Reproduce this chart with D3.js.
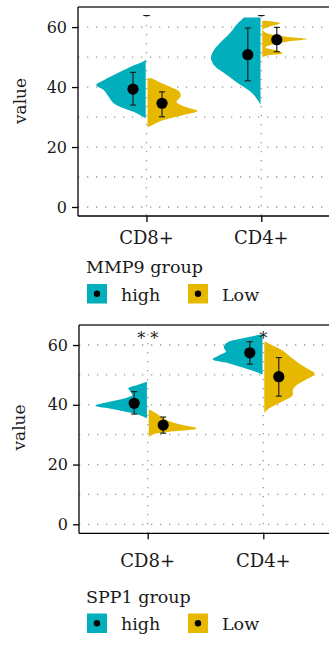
<!DOCTYPE html>
<html>
<head>
<meta charset="utf-8">
<title>MMP9 / SPP1 split violins</title>
<style>
  body { margin: 0; background: #fff; }
  svg text { font-family: "DejaVu Serif", serif; fill: #1a1a1a; }
</style>
</head>
<body>
<svg width="329" height="656"></svg>
<script src="https://cdn.jsdelivr.net/npm/d3@7"></script>
<script>

// ---- data ----
var cells = ["CD8+", "CD4+"];
var groups = ["high", "Low"];
var yTicks = [0, 20, 40, 60];
var gridVals = [0, 10, 20, 30, 40, 50, 60];

// density outlines: [value, relative width]
var mmpHighCD8 = [[49.2,0],[48.5,0.05],[46.8,0.30],[44.6,0.57],[42.3,0.84],[40.7,0.99],[39,0.84],[36.8,0.74],[34.6,0.64],[32.9,0.44],[31.2,0.17],[29.6,0]];
var mmpLowCD8  = [[42.9,0.08],[41.8,0.22],[40.1,0.45],[38.4,0.64],[36.8,0.66],[35.1,0.58],[33.4,0.75],[32,1.0],[30.7,0.72],[29,0.32],[27.3,0.09],[26.6,0]];
var mmpHighCD4 = [[63.2,0.33],[60.8,0.48],[58,0.61],[55.2,0.78],[52.4,0.93],[49.7,0.99],[46.9,0.91],[44.1,0.68],[41.3,0.45],[38.6,0.21],[36.3,0.08],[34.1,0]];
var mmpLowCD4  = [[62.1,0.05],[61.3,0.35],[59.9,0.09],[59.1,0.01],[58,0.08],[56.9,0.45],[56,0.9],[55.2,0.52],[54.1,0.18],[53.2,0.06],[52.1,0.32],[51.3,0.40],[50.6,0.12],[49.9,0]];

var sppHighCD8 = [[47.7,0],[46.6,0.19],[45.5,0.37],[44.4,0.33],[43.3,0.29],[42.2,0.44],[41,0.75],[39.7,1.03],[38.8,0.75],[37.7,0.42],[36.6,0.15],[35.5,0]];
var sppLowCD8  = [[38.3,0.02],[37.1,0.15],[36,0.25],[34.3,0.44],[33.2,0.68],[32.1,0.96],[31,0.41],[30.1,0.08],[29.3,0]];
var sppHighCD4 = [[63.4,0.06],[62.2,0.41],[61.1,0.68],[60,0.76],[58.9,0.77],[57.8,0.73],[56.7,0.85],[55.2,1.0],[53.9,0.68],[52.2,0.35],[50.7,0.08],[50,0]];
var sppLowCD4  = [[61.1,0.02],[60,0.15],[58.3,0.35],[56.1,0.52],[53.9,0.69],[52.2,0.85],[50.3,1.01],[48.3,0.82],[46.6,0.65],[44.9,0.57],[43.3,0.57],[41.6,0.42],[39.9,0.22],[38.2,0.05],[37.3,0]];

// mean and error bar ends, per cell (CD8+, CD4+)
var mmpHighMean = [39.3, 50.8], mmpHighLo = [34, 42.1], mmpHighHi = [44.9, 59.7];
var mmpLowMean  = [34.6, 55.8], mmpLowLo  = [30.1, 51.8], mmpLowHi  = [38.4, 59.9];
var sppHighMean = [40.5, 57.4], sppHighLo = [36.9, 53.6], sppHighHi = [44.4, 61.1];
var sppLowMean  = [33.2, 49.4], sppLowLo  = [30.5, 42.9], sppLowHi  = [35.9, 55.8];

var mmpSig = ["\u2013", "\u2013"];
var sppSig = ["* *", "*"];

var colors = {high: "#00AFBB", Low: "#E7B800"};

// ---- layout ----
var svg = d3.select("svg");

var panels = [
  {title: "MMP9 group", top: 7, bottom: 216, left: 78, xl: [146.5, 261.3],
   dens: {high: [mmpHighCD8, mmpHighCD4], Low: [mmpLowCD8, mmpLowCD4]},
   mean: {high: mmpHighMean, Low: mmpLowMean}, lo: {high: mmpHighLo, Low: mmpLowLo}, hi: {high: mmpHighHi, Low: mmpLowHi},
   sig: mmpSig, sigY: 20, labY: 244, ylabX: 20, ylabY: 101, legTitleY: 273, keyY: 284, keyTextY: 301},
  {title: "SPP1 group", top: 325, bottom: 533.3, left: 79, xl: [147.7, 263.3],
   dens: {high: [sppHighCD8, sppHighCD4], Low: [sppLowCD8, sppLowCD4]},
   mean: {high: sppHighMean, Low: sppLowMean}, lo: {high: sppHighLo, Low: sppLowLo}, hi: {high: sppHighHi, Low: sppLowHi},
   sig: sppSig, sigY: 344, labY: 567, ylabX: 19, ylabY: 427.5, legTitleY: 603, keyY: 613.5, keyTextY: 630}
];

var wScale = d3.scaleLinear().domain([0, 1]).range([0, 50]);
var edgeOff = {high: -0.8, Low: 1};
var pointOff = {high: -13.5, Low: 15.5};

panels.forEach(drawPanel);

function drawPanel(p) {
  var y = d3.scaleLinear().domain([-3, 66.7]).range([p.bottom, p.top]);
  var x = d3.scalePoint().domain(cells).range(p.xl);
  var g = svg.append("g");

  // dotted grid
  g.selectAll(".hgrid").data(gridVals).enter().append("line")
    .attr("x1", p.left).attr("x2", 329)
    .attr("y1", function(d) { return y(d); }).attr("y2", function(d) { return y(d); })
    .attr("stroke", "#9a9a9a").attr("stroke-width", 1.3)
    .attr("stroke-dasharray", "1.3,7.7");
  g.selectAll(".vgrid").data(cells).enter().append("line")
    .attr("x1", function(d) { return x(d); }).attr("x2", function(d) { return x(d); })
    .attr("y1", p.top).attr("y2", p.bottom)
    .attr("stroke", "#9a9a9a").attr("stroke-width", 1.3)
    .attr("stroke-dasharray", "1.3,7.7");

  // half violins
  groups.forEach(function(grp) {
    cells.forEach(function(c, i) {
      var edge = x(c) + edgeOff[grp];
      var sign = grp == "high" ? -1 : 1;
      var area = d3.area()
        .curve(d3.curveCatmullRom.alpha(0.5))
        .y(function(d) { return y(d[0]); })
        .x0(edge)
        .x1(function(d) { return edge + sign * wScale(d[1]); });
      g.append("path")
        .datum(p.dens[grp][i])
        .attr("d", area)
        .attr("fill", colors[grp]);
    });
  });

  // error bars + means
  groups.forEach(function(grp) {
    cells.forEach(function(c, i) {
      var cx = x(c) + pointOff[grp];
      g.append("line")
        .attr("x1", cx).attr("x2", cx)
        .attr("y1", y(p.lo[grp][i])).attr("y2", y(p.hi[grp][i]))
        .attr("stroke", "#222").attr("stroke-width", 1.2);
      [p.lo[grp][i], p.hi[grp][i]].forEach(function(v) {
        g.append("line")
          .attr("x1", cx - 3).attr("x2", cx + 3)
          .attr("y1", y(v)).attr("y2", y(v))
          .attr("stroke", "#222").attr("stroke-width", 1.2);
      });
      g.append("circle")
        .attr("cx", cx).attr("cy", y(p.mean[grp][i]))
        .attr("r", 5.6).attr("fill", "#000");
    });
  });

  // significance labels
  g.selectAll(".sig").data(p.sig).enter().append("text")
    .attr("x", function(d, i) { return x(cells[i]); })
    .attr("y", p.sigY)
    .attr("text-anchor", "middle")
    .attr("font-size", 16)
    .text(function(d) { return d; });

  // panel frame and axes
  g.append("line").attr("x1", p.left).attr("x2", 329).attr("y1", p.top).attr("y2", p.top)
    .attr("stroke", "#333").attr("stroke-width", 1.3);

  var yAxis = g.append("g").attr("transform", "translate(" + p.left + ",0)")
    .call(d3.axisLeft(y).tickValues(yTicks).tickSize(6).tickPadding(5));
  yAxis.attr("font-family", null);
  yAxis.select(".domain").attr("stroke", "#000").attr("stroke-width", 1.3)
    .attr("d", "M0," + p.top + "V" + p.bottom);
  yAxis.selectAll(".tick line").attr("stroke", "#000").attr("stroke-width", 1.3);
  yAxis.selectAll(".tick text").attr("font-size", 16).attr("fill", "#1a1a1a");

  var xAxis = g.append("g").attr("transform", "translate(0," + p.bottom + ")")
    .call(d3.axisBottom(x).tickSize(6).tickFormat(""));
  xAxis.select(".domain").attr("stroke", "#000").attr("stroke-width", 1.3)
    .attr("d", "M" + p.left + ",0H329");
  xAxis.selectAll(".tick line").attr("stroke", "#000").attr("stroke-width", 1.3);

  g.selectAll(".xlab").data(cells).enter().append("text")
    .attr("x", function(d) { return x(d); })
    .attr("y", p.labY)
    .attr("text-anchor", "middle")
    .attr("font-size", 18)
    .text(function(d) { return d; });

  g.append("text")
    .attr("transform", "translate(" + (p.ylabX + 6) + "," + p.ylabY + ") rotate(-90)")
    .attr("text-anchor", "middle")
    .attr("font-size", 17)
    .text("value");

  // legend
  g.append("text").attr("x", 86).attr("y", p.legTitleY).attr("font-size", 17.5).text(p.title);
  var keyX = {high: 87, Low: 188};
  var keyTextX = {high: 121, Low: 222};
  groups.forEach(function(grp) {
    g.append("rect").attr("x", keyX[grp]).attr("y", p.keyY)
      .attr("width", 20).attr("height", 19.5).attr("fill", colors[grp]);
    g.append("circle").attr("cx", keyX[grp] + 10).attr("cy", p.keyY + 9.75)
      .attr("r", 3.2).attr("fill", "#000");
    g.append("text").attr("x", keyTextX[grp]).attr("y", p.keyTextY)
      .attr("font-size", 17.5).text(grp);
  });
}
</script>
</body>
</html>
